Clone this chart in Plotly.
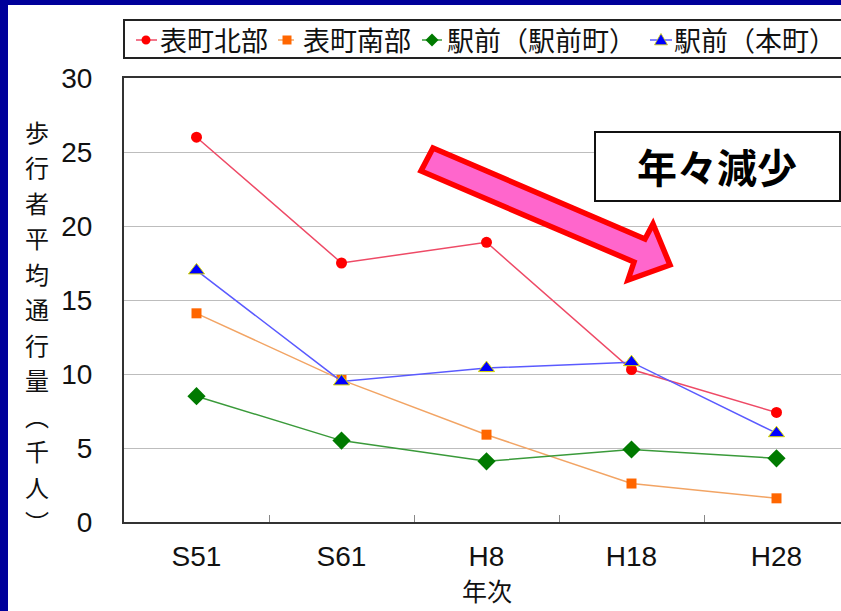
import plotly.graph_objects as go

# ---- data -------------------------------------------------------------
years = ["S51", "S61", "H8", "H18", "H28"]
omote_north = [26.0, 17.5, 18.9, 10.3, 7.4]      # 表町北部
omote_south = [14.1, 9.6, 5.9, 2.6, 1.6]         # 表町南部
ekimae_ekimae = [8.5, 5.5, 4.1, 4.9, 4.3]        # 駅前（駅前町）
ekimae_honmachi = [17.0, 9.5, 10.4, 10.8, 6.0]   # 駅前（本町）
series_names = ["表町北部", "表町南部", "駅前（駅前町）", "駅前（本町）"]
y_ticks = [0, 5, 10, 15, 20, 25, 30]
y_title_chars = list("歩行者平均通行量") + ["︵", "千", "人", "︶"]

# ---- page geometry ----------------------------------------------------
W, H = 841, 611
L, R, T, B = 124, 0, 78, 89
PW, PH = W - L - R, H - T - B


def px(x):
    """pixel x -> paper x"""
    return (x - L) / PW


def py(y):
    """pixel y (from top) -> paper y"""
    return (H - B - y) / PH


JP = "Noto Sans CJK JP"
NUM = "Liberation Sans, Arial, " + JP

styles = [
    dict(line=dict(color="#ee4a66", width=1.5),
         marker=dict(symbol="circle", size=11, color="#ff0000",
                     line=dict(width=0))),
    dict(line=dict(color="#f2a464", width=1.5),
         marker=dict(symbol="square", size=10, color="#ff6600",
                     line=dict(width=0))),
    dict(line=dict(color="#3a9a3a", width=1.5),
         marker=dict(symbol="diamond", size=14, color="#007a00",
                     line=dict(width=0))),
    dict(line=dict(color="#5a5aff", width=1.5),
         marker=dict(symbol="triangle-up", size=14, color="#0000ff",
                     line=dict(width=1, color="#d8d800"))),
]

fig = go.Figure()
for name, vals, st in zip(series_names,
                          [omote_north, omote_south, ekimae_ekimae, ekimae_honmachi],
                          styles):
    fig.add_trace(go.Scatter(x=years, y=vals, name=name, mode="lines+markers",
                             line=st["line"], marker=st["marker"], showlegend=False))

shapes = [
    # navy frame along the left and top edges
    dict(type="rect", xref="paper", yref="paper", x0=px(0), x1=px(8), y0=py(H), y1=py(0),
         fillcolor="#00009a", line=dict(width=0), layer="below"),
    dict(type="rect", xref="paper", yref="paper", x0=px(0), x1=px(W), y0=py(5), y1=py(0),
         fillcolor="#00009a", line=dict(width=0), layer="below"),
    # legend frame
    dict(type="rect", xref="paper", yref="paper", x0=px(124), x1=px(860), y0=py(58), y1=py(20),
         fillcolor="rgba(0,0,0,0)", line=dict(color="#222", width=2)),
    # "年々減少" box
    dict(type="rect", xref="paper", yref="paper", x0=px(595), x1=px(840), y0=py(201), y1=py(132),
         fillcolor="white", line=dict(color="#111", width=2), layer="above"),
]


def poly(points):
    return "M " + " L ".join(f"{px(x):.5f},{py(y):.5f}" for x, y in points) + " Z"


# downward block arrow
arrow_pts = [(433, 148), (645, 239), (653, 224), (670, 265),
             (628, 280), (634, 262), (421, 171)]
shapes.append(dict(type="path", xref="paper", yref="paper", path=poly(arrow_pts),
                   fillcolor="#ff66cc", line=dict(color="#ff0000", width=5.5),
                   layer="above"))

annotations = [
    dict(text="年次", xref="paper", yref="paper", x=px(487), y=py(590),
         xanchor="center", yanchor="middle", showarrow=False,
         font=dict(family=JP, size=25, color="#111")),
    dict(text="<b>年々減少</b>", xref="paper", yref="paper", x=px(717), y=py(166),
         xanchor="center", yanchor="middle", showarrow=False,
         font=dict(family=JP, size=40, color="#000")),
]
# vertical y-axis title, one character per row
for i, ch in enumerate(y_title_chars):
    yc = 131 + i * 35.5
    annotations.append(dict(text=ch, xref="paper", yref="paper", x=px(37), y=py(yc),
                            xanchor="center", yanchor="middle", showarrow=False,
                            font=dict(family=JP, size=24, color="#111")))

# legend row: (line start, line end, marker centre, text start) in pixels
legend_slots = [(136, 157, 146, 158), (278, 294, 287, 301),
                (422, 442, 432, 445), (650, 672, 661, 672)]
LY = 40
for name, st, (lx0, lx1, mx, tx) in zip(series_names, styles, legend_slots):
    shapes.append(dict(type="line", xref="paper", yref="paper",
                       x0=px(lx0), x1=px(lx1), y0=py(LY), y1=py(LY),
                       line=dict(color=st["line"]["color"], width=1.5)))
    sym = st["marker"]["symbol"]
    col = st["marker"]["color"]
    if sym == "circle":
        r = 4.5
        shapes.append(dict(type="circle", xref="paper", yref="paper",
                           x0=px(mx - r), x1=px(mx + r), y0=py(LY + r), y1=py(LY - r),
                           fillcolor=col, line=dict(width=0)))
    elif sym == "square":
        r = 4.5
        shapes.append(dict(type="rect", xref="paper", yref="paper",
                           x0=px(mx - r), x1=px(mx + r), y0=py(LY + r), y1=py(LY - r),
                           fillcolor=col, line=dict(width=0)))
    elif sym == "diamond":
        r = 6.5
        shapes.append(dict(type="path", xref="paper", yref="paper",
                           path=poly([(mx, LY - r), (mx + r, LY), (mx, LY + r), (mx - r, LY)]),
                           fillcolor=col, line=dict(width=0)))
    else:
        r = 6.5
        shapes.append(dict(type="path", xref="paper", yref="paper",
                           path=poly([(mx, LY - r), (mx + r, LY + r * 0.75), (mx - r, LY + r * 0.75)]),
                           fillcolor=col, line=dict(width=0.8, color="#d8d800")))
    annotations.append(dict(text=name, xref="paper", yref="paper", x=px(tx), y=py(LY),
                            xanchor="left", yanchor="middle", showarrow=False,
                            font=dict(family=JP, size=27, color="#111")))

fig.update_layout(
    width=W, height=H,
    margin=dict(l=L, r=R, t=T, b=B, pad=0),
    paper_bgcolor="white", plot_bgcolor="white",
    showlegend=False,
    shapes=shapes, annotations=annotations,
    xaxis=dict(type="category", range=[-0.5, (W - L) / 145 - 0.5],
               showline=True, linecolor="#333", linewidth=2, mirror=True,
               ticks="inside", tickson="boundaries", ticklen=7, tickcolor="#888",
               showgrid=False, tickfont=dict(family=NUM, size=28, color="#111"),
               ticklabelstandoff=8),
    yaxis=dict(range=[0, 30], tickvals=y_ticks, showline=True, linecolor="#333",
               linewidth=2, ticks="", showgrid=True, gridcolor="#bdbdbd", gridwidth=1,
               zeroline=False, tickfont=dict(family=NUM, size=28, color="#111"),
               ticklabelstandoff=24),
)

fig.write_html("out.html")
